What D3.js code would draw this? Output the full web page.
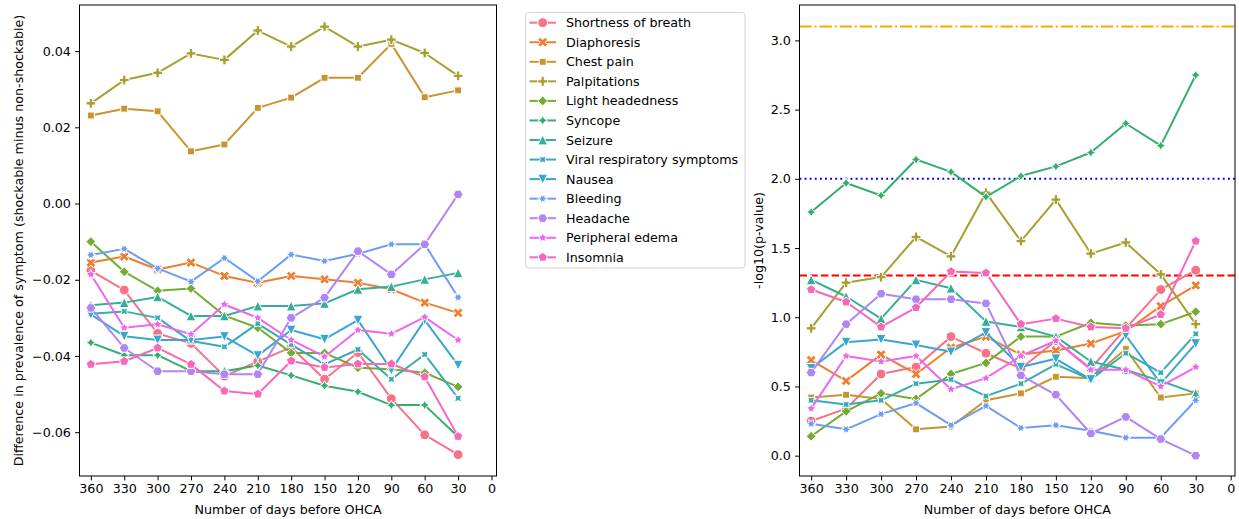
<!DOCTYPE html>
<html>
<head>
<meta charset="utf-8">
<script src="https://cdn.jsdelivr.net/npm/d3@7"></script>
<style>
  body { margin: 0; background: #fff; }
  svg text { font-family: "DejaVu Sans", sans-serif; fill: #000; }
</style>
</head>
<body>
<svg id="chart" width="1239" height="519"></svg>
<script>
// Days before the out-of-hospital cardiac arrest (OHCA) for each window
const days = [360, 330, 300, 270, 240, 210, 180, 150, 120, 90, 60, 30];

const symptoms = [
  "Shortness of breath", "Diaphoresis", "Chest pain", "Palpitations",
  "Light headedness", "Syncope", "Seizure", "Viral respiratory symptoms",
  "Nausea", "Bleeding", "Headache", "Peripheral edema", "Insomnia"
];

const colors = [
  "#f77189", "#ee7f30", "#c9942f", "#a5a031", "#72ac32", "#35ae6d", "#36ad96",
  "#37aab3", "#39a6d2", "#6c9cf5", "#b185f4", "#ee66ef", "#f668b9"
];

// Difference in prevalence (shockable minus non-shockable)
const shortnessOfBreathDiff = [-0.0176, -0.0227, -0.0341, -0.0367, -0.0453, -0.0415, -0.0377, -0.0461, -0.0391, -0.0512, -0.0607, -0.0659];
const diaphoresisDiff       = [-0.0155, -0.0139, -0.0173, -0.0155, -0.0190, -0.0208, -0.0190, -0.0199, -0.0208, -0.0225, -0.0260, -0.0287];
const chestPainDiff         = [0.0231, 0.0249, 0.0242, 0.0137, 0.0155, 0.0251, 0.0278, 0.0330, 0.0330, 0.0419, 0.0279, 0.0297];
const palpitationsDiff      = [0.0263, 0.0324, 0.0343, 0.0394, 0.0377, 0.0454, 0.0412, 0.0464, 0.0412, 0.0430, 0.0395, 0.0335];
const lightHeadednessDiff   = [-0.0100, -0.0179, -0.0229, -0.0223, -0.0294, -0.0326, -0.0392, -0.0392, -0.0431, -0.0435, -0.0444, -0.0481];
const syncopeDiff           = [-0.0365, -0.0398, -0.0398, -0.0440, -0.0440, -0.0425, -0.0451, -0.0478, -0.0494, -0.0529, -0.0529, -0.0612];
const seizureDiff           = [-0.0267, -0.0260, -0.0245, -0.0295, -0.0295, -0.0269, -0.0269, -0.0262, -0.0225, -0.0218, -0.0199, -0.0182];
const viralDiff             = [-0.0289, -0.0283, -0.0300, -0.0361, -0.0376, -0.0315, -0.0370, -0.0422, -0.0383, -0.0461, -0.0396, -0.0511];
const nauseaDiff            = [-0.0291, -0.0348, -0.0358, -0.0358, -0.0349, -0.0399, -0.0332, -0.0356, -0.0306, -0.0437, -0.0306, -0.0424];
const bleedingDiff          = [-0.0135, -0.0119, -0.0170, -0.0205, -0.0143, -0.0204, -0.0134, -0.0151, -0.0132, -0.0107, -0.0107, -0.0246];
const headacheDiff          = [-0.0274, -0.0379, -0.0440, -0.0440, -0.0448, -0.0448, -0.0300, -0.0247, -0.0125, -0.0186, -0.0107, 0.0024];
const peripheralEdemaDiff   = [-0.0186, -0.0326, -0.0317, -0.0343, -0.0265, -0.0300, -0.0358, -0.0402, -0.0332, -0.0342, -0.0298, -0.0358];
const insomniaDiff          = [-0.0422, -0.0414, -0.0379, -0.0422, -0.0492, -0.0500, -0.0413, -0.0430, -0.0421, -0.0421, -0.0455, -0.0611];

// -log10(p-value) of each difference
const shortnessOfBreathLogP = [0.25, 0.34, 0.59, 0.64, 0.86, 0.74, 0.63, 0.83, 0.63, 0.92, 1.20, 1.34];
const diaphoresisLogP       = [0.69, 0.54, 0.73, 0.59, 0.78, 0.86, 0.73, 0.76, 0.81, 0.90, 1.08, 1.23];
const chestPainLogP         = [0.42, 0.44, 0.41, 0.19, 0.21, 0.40, 0.45, 0.57, 0.56, 0.77, 0.42, 0.45];
const palpitationsLogP      = [0.92, 1.25, 1.29, 1.58, 1.44, 1.90, 1.55, 1.85, 1.46, 1.54, 1.31, 0.95];
const lightHeadednessLogP   = [0.14, 0.32, 0.45, 0.41, 0.59, 0.67, 0.86, 0.86, 0.96, 0.94, 0.95, 1.04];
const syncopeLogP           = [1.76, 1.97, 1.88, 2.14, 2.05, 1.87, 2.02, 2.09, 2.19, 2.40, 2.24, 2.75];
const seizureLogP           = [1.27, 1.15, 0.99, 1.27, 1.21, 0.97, 0.93, 0.86, 0.68, 0.62, 0.54, 0.45];
const viralLogP             = [0.40, 0.37, 0.40, 0.52, 0.55, 0.43, 0.52, 0.66, 0.55, 0.74, 0.60, 0.88];
const nauseaLogP            = [0.63, 0.82, 0.84, 0.80, 0.75, 0.89, 0.64, 0.70, 0.55, 0.87, 0.52, 0.81];
const bleedingLogP          = [0.23, 0.19, 0.30, 0.38, 0.22, 0.36, 0.20, 0.22, 0.18, 0.13, 0.13, 0.40];
const headacheLogP          = [0.60, 0.95, 1.17, 1.13, 1.13, 1.10, 0.58, 0.44, 0.16, 0.28, 0.12, 0.00];
const peripheralEdemaLogP   = [0.34, 0.72, 0.68, 0.72, 0.48, 0.56, 0.72, 0.83, 0.62, 0.62, 0.50, 0.64];
const insomniaLogP          = [1.20, 1.11, 0.93, 1.07, 1.33, 1.32, 0.95, 0.99, 0.93, 0.92, 1.02, 1.55];

const diffSeries = [shortnessOfBreathDiff, diaphoresisDiff, chestPainDiff, palpitationsDiff,
  lightHeadednessDiff, syncopeDiff, seizureDiff, viralDiff, nauseaDiff, bleedingDiff,
  headacheDiff, peripheralEdemaDiff, insomniaDiff];
const logPSeries = [shortnessOfBreathLogP, diaphoresisLogP, chestPainLogP, palpitationsLogP,
  lightHeadednessLogP, syncopeLogP, seizureLogP, viralLogP, nauseaLogP, bleedingLogP,
  headacheLogP, peripheralEdemaLogP, insomniaLogP];

// Significance thresholds: p = 0.05, p = 0.01, Bonferroni-corrected
const thresholdValues = [1.301, 2.0, 3.1];
const thresholdColors = ["#ff0000", "#0000ff", "#ffa500"];
const thresholdDashes = ["7.5,3.2", "1.9,3.2", "12.2,3,1.9,3"];

const xTicks = d3.range(360, -1, -30);
const diffTicks = [-0.06, -0.04, -0.02, 0.00, 0.02, 0.04];
const logPTicks = [0.0, 0.5, 1.0, 1.5, 2.0, 2.5, 3.0];

const FONT = 12.7;
const svg = d3.select("#chart");

// Marker shapes (one per symptom), sized like matplotlib markers of size s px
function poly(n, rot, s) {
  const r = s / 2, pts = [];
  for (let k = 0; k < n; k++) {
    const a = Math.PI / 2 + 2 * Math.PI * k / n + rot * Math.PI / 180;
    pts.push([r * Math.cos(a), -r * Math.sin(a)]);
  }
  return "M" + pts.map(p => p.join(",")).join("L") + "Z";
}
function star(n, rot, s) {
  const r = s / 2, pts = [];
  for (let k = 0; k < 2 * n; k++) {
    const rr = k % 2 === 0 ? r : r * 0.5;
    const a = Math.PI / 2 + Math.PI * k / n + rot * Math.PI / 180;
    pts.push([rr * Math.cos(a), -rr * Math.sin(a)]);
  }
  return "M" + pts.map(p => p.join(",")).join("L") + "Z";
}
function scaled(points, div, s) {
  return "M" + points.map(([x, y]) => [x / div * s, -y / div * s].join(",")).join("L") + "Z";
}
const markerShapes = [
  s => `M${s / 2},0A${s / 2},${s / 2} 0 1,1 ${-s / 2},0A${s / 2},${s / 2} 0 1,1 ${s / 2},0Z`,
  s => scaled([[-1, -2], [0, -1], [1, -2], [2, -1], [1, 0], [2, 1], [1, 2], [0, 1], [-1, 2], [-2, 1], [-1, 0], [-2, -1]], 4, s),
  s => poly(4, 45, s),
  s => scaled([[-1, -3], [1, -3], [1, -1], [3, -1], [3, 1], [1, 1], [1, 3], [-1, 3], [-1, 1], [-3, 1], [-3, -1], [-1, -1]], 6, s),
  s => poly(4, 0, s),
  s => star(4, 0, s),
  s => `M0,${-s / 2}L${-s / 2},${s / 2}L${s / 2},${s / 2}Z`,
  s => star(4, 45, s),
  s => `M0,${s / 2}L${-s / 2},${-s / 2}L${s / 2},${-s / 2}Z`,
  s => star(6, 30, s),
  s => poly(6, 30, s),
  s => star(5, 0, s),
  s => poly(5, 0, s)
];
const MS = 9.8;

function drawPanel(box, xDomain, yDomain, yTicks, yFmt, series, yLabel, yLabelX, extra) {
  const x = d3.scaleLinear().domain(xDomain).range([box.x0, box.x1]);
  const y = d3.scaleLinear().domain(yDomain).range([box.y1, box.y0]);
  const g = svg.append("g");

  if (extra) extra(g, x, y);

  const line = d3.line().x((d, i) => x(days[i])).y(d => y(d));
  series.forEach((vals, si) => {
    const sg = g.append("g");
    sg.append("path").attr("d", line(vals)).attr("fill", "none")
      .attr("stroke", colors[si]).attr("stroke-width", 2)
      .attr("stroke-linejoin", "round").attr("stroke-linecap", "round");
    sg.selectAll("path.m").data(vals).join("path").attr("class", "m")
      .attr("d", markerShapes[si](MS))
      .attr("transform", (d, i) => `translate(${x(days[i])},${y(d)})`)
      .attr("fill", colors[si]).attr("stroke", "#fff").attr("stroke-width", 1);
  });

  const xAxis = g.append("g").attr("transform", `translate(0,${box.y1})`)
    .call(d3.axisBottom(x).tickValues(xTicks).tickFormat(d3.format("d"))
      .tickSize(4.4).tickPadding(3.6).tickSizeOuter(0));
  const yAxis = g.append("g").attr("transform", `translate(${box.x0},0)`)
    .call(d3.axisLeft(y).tickValues(yTicks).tickFormat(yFmt)
      .tickSize(4.4).tickPadding(4.2).tickSizeOuter(0));
  [xAxis, yAxis].forEach(a => {
    a.select(".domain").remove();
    a.selectAll("line").attr("stroke", "#000").attr("stroke-width", 1);
    a.selectAll("text").attr("font-size", FONT).attr("font-family", "DejaVu Sans, sans-serif").attr("fill", "#000");
  });

  g.append("rect").attr("x", box.x0).attr("y", box.y0)
    .attr("width", box.x1 - box.x0).attr("height", box.y1 - box.y0)
    .attr("fill", "none").attr("stroke", "#000").attr("stroke-width", 1);

  g.append("text").attr("x", (box.x0 + box.x1) / 2).attr("y", 509)
    .attr("text-anchor", "middle").attr("dominant-baseline", "central")
    .attr("font-size", FONT).text("Number of days before OHCA");
  g.append("text").attr("transform", `translate(${yLabelX},${(box.y0 + box.y1) / 2}) rotate(-90)`)
    .attr("text-anchor", "middle").attr("dominant-baseline", "central")
    .attr("font-size", FONT).text(yLabel);
}

// Left: difference in prevalence
drawPanel({ x0: 79.5, x1: 496.5, y0: 5, y1: 476 }, [370.2, -4.5], [-0.0715, 0.0521],
  diffTicks, d3.format(".2f"), diffSeries,
  "Difference in prevalence of symptom (shockable minus non-shockable)", 18.5);

// Right: significance with threshold lines
drawPanel({ x0: 799.5, x1: 1235, y0: 5, y1: 476 }, [370, -3.7], [-0.147, 3.256],
  logPTicks, d3.format(".1f"), logPSeries, "-log10(p-value)", 758,
  (g, x, y) => {
    thresholdValues.forEach((v, i) => {
      g.append("line").attr("x1", 799.5).attr("x2", 1235)
        .attr("y1", y(v)).attr("y2", y(v))
        .attr("stroke", thresholdColors[i]).attr("stroke-width", 2)
        .attr("stroke-dasharray", thresholdDashes[i]);
    });
  });

// Legend
const lg = svg.append("g");
lg.append("rect").attr("x", 525.5).attr("y", 12.5).attr("width", 219.5).attr("height", 255.5)
  .attr("rx", 3).attr("fill", "#fff").attr("fill-opacity", 0.8)
  .attr("stroke", "#d4d4d4").attr("stroke-width", 1);
symptoms.forEach((name, i) => {
  const cy = 22.7 + i * 19.55;
  lg.append("line").attr("x1", 529.5).attr("x2", 556).attr("y1", cy).attr("y2", cy)
    .attr("stroke", colors[i]).attr("stroke-width", 2);
  lg.append("path").attr("d", markerShapes[i](MS)).attr("transform", `translate(542.7,${cy})`)
    .attr("fill", colors[i]).attr("stroke", "#fff").attr("stroke-width", 1);
  lg.append("text").attr("x", 566).attr("y", cy).attr("dominant-baseline", "central")
    .attr("font-size", FONT).text(name);
});
</script>
</body>
</html>
